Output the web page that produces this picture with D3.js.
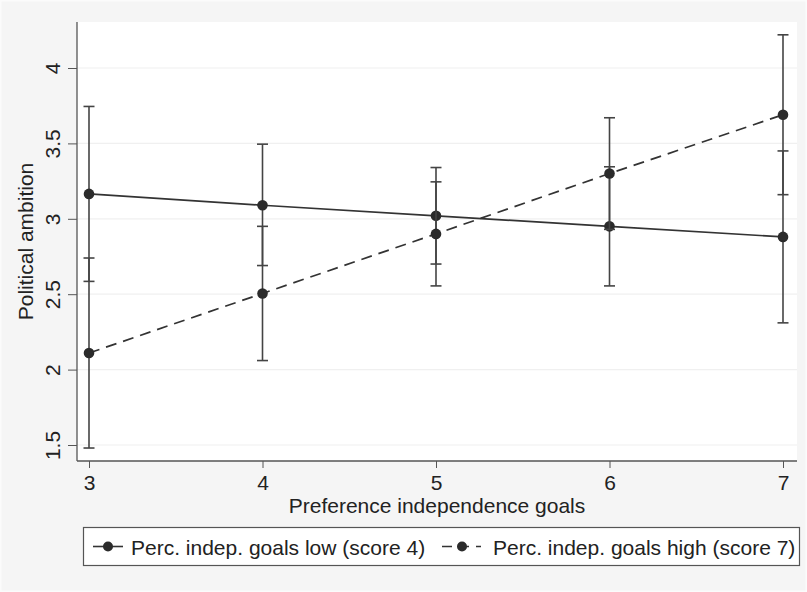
<!DOCTYPE html>
<html>
<head>
<meta charset="utf-8">
<script src="https://cdn.jsdelivr.net/npm/d3@7"></script>
<style>
  body { margin: 0; background: #f5f5f5; }
  svg { display: block; font-family: "Liberation Sans", Arial, sans-serif; }
</style>
</head>
<body>
<div id="chart"></div>
<script>
const width = 807;
const height = 592;

// data
const xValues = [3, 4, 5, 6, 7];
const lowMean = [3.165, 3.09, 3.02, 2.95, 2.88];
const lowLower = [2.585, 2.69, 2.70, 2.555, 2.31];
const lowUpper = [3.745, 3.495, 3.34, 3.345, 3.45];
const highMean = [2.11, 2.505, 2.90, 3.30, 3.69];
const highLower = [1.48, 2.06, 2.555, 2.93, 3.16];
const highUpper = [2.74, 2.95, 3.245, 3.67, 4.22];
const yTicks = [1.5, 2, 2.5, 3, 3.5, 4];
const seriesNames = ["Perc. indep. goals low (score 4)", "Perc. indep. goals high (score 7)"];

const plot = { left: 77, top: 22, right: 797, bottom: 461 };
const ink = "#333";

const svg = d3.select("#chart")
  .append("svg")
  .attr("width", width)
  .attr("height", height);

// graph region
svg.append("rect")
  .attr("x", 0.5).attr("y", 0.5)
  .attr("width", width - 1).attr("height", height - 1)
  .attr("fill", "#f5f5f5")
  .attr("stroke", "#fbfbfb")
  .attr("stroke-width", 2);

// plot region
svg.append("rect")
  .attr("x", plot.left).attr("y", plot.top)
  .attr("width", plot.right - plot.left)
  .attr("height", plot.bottom - plot.top)
  .attr("fill", "#fff");

const x = d3.scaleLinear().domain([3, 7]).range([89, 783]);
const y = d3.scaleLinear().domain([1.5, 4]).range([445, 68]);

// gridlines
svg.selectAll("line.grid")
  .data(yTicks)
  .enter()
  .append("line")
  .attr("class", "grid")
  .attr("x1", plot.left)
  .attr("x2", plot.right)
  .attr("y1", d => y(d))
  .attr("y2", d => y(d))
  .attr("stroke", "#f0f0f0")
  .attr("stroke-width", 1.2);

// y axis
const yAxis = svg.append("g")
  .attr("transform", `translate(${plot.left},0)`)
  .call(d3.axisLeft(y).tickValues(yTicks).tickSize(9).tickPadding(0).tickFormat(d3.format("")));
yAxis.select(".domain").remove();
yAxis.selectAll(".tick line").attr("stroke", "#555");
yAxis.selectAll(".tick text")
  .attr("transform", "rotate(-90)")
  .attr("x", 0)
  .attr("y", -17)
  .attr("dy", 0)
  .attr("text-anchor", "middle")
  .attr("font-size", 21)
  .attr("fill", "#222");
svg.append("line")
  .attr("x1", plot.left).attr("x2", plot.left)
  .attr("y1", plot.top).attr("y2", plot.bottom)
  .attr("stroke", "#555").attr("stroke-width", 1.3);

// x axis
const xAxis = svg.append("g")
  .attr("transform", `translate(0,${plot.bottom})`)
  .call(d3.axisBottom(x).tickValues(xValues).tickSize(7).tickPadding(0).tickFormat(d3.format("d")));
xAxis.select(".domain").remove();
xAxis.selectAll(".tick line").attr("stroke", "#555");
xAxis.selectAll(".tick text")
  .attr("y", 29)
  .attr("dy", 0)
  .attr("font-size", 21)
  .attr("fill", "#222");
svg.append("line")
  .attr("x1", plot.left).attr("x2", plot.right)
  .attr("y1", plot.bottom).attr("y2", plot.bottom)
  .attr("stroke", "#555").attr("stroke-width", 1.3);

// axis titles
svg.append("text")
  .attr("x", (plot.left + plot.right) / 2)
  .attr("y", 513)
  .attr("text-anchor", "middle")
  .attr("font-size", 21)
  .attr("fill", "#222")
  .text("Preference independence goals");

svg.append("text")
  .attr("transform", `translate(33,${(plot.top + plot.bottom) / 2}) rotate(-90)`)
  .attr("text-anchor", "middle")
  .attr("font-size", 21)
  .attr("fill", "#222")
  .text("Political ambition");

// series
const series = [
  { mean: lowMean, lower: lowLower, upper: lowUpper, dash: null },
  { mean: highMean, lower: highLower, upper: highUpper, dash: "11,7" }
];

const line = d3.line()
  .x(d => x(d.x))
  .y(d => y(d.v));

series.forEach(s => {
  const pts = xValues.map((xv, i) => ({ x: xv, v: s.mean[i], lo: s.lower[i], hi: s.upper[i] }));

  // error bars
  const bars = svg.append("g").attr("stroke", "#444").attr("stroke-width", 1.6);
  bars.selectAll("line.ci")
    .data(pts)
    .enter()
    .append("line")
    .attr("x1", d => x(d.x)).attr("x2", d => x(d.x))
    .attr("y1", d => y(d.lo)).attr("y2", d => y(d.hi));
  ["lo", "hi"].forEach(k => {
    bars.selectAll("line.cap-" + k)
      .data(pts)
      .enter()
      .append("line")
      .attr("x1", d => x(d.x) - 5.5).attr("x2", d => x(d.x) + 5.5)
      .attr("y1", d => y(d[k])).attr("y2", d => y(d[k]));
  });

  svg.append("path")
    .datum(pts)
    .attr("d", line)
    .attr("fill", "none")
    .attr("stroke", ink)
    .attr("stroke-width", 1.7)
    .attr("stroke-dasharray", s.dash);

  svg.selectAll(null)
    .data(pts)
    .enter()
    .append("circle")
    .attr("cx", d => x(d.x))
    .attr("cy", d => y(d.v))
    .attr("r", 5.3)
    .attr("fill", "#2b2b2b");
});

// legend
const legend = svg.append("g");
legend.append("rect")
  .attr("x", 83.5).attr("y", 527.5)
  .attr("width", 716).attr("height", 38)
  .attr("fill", "#fff")
  .attr("stroke", "#555")
  .attr("stroke-width", 1.2);

const legendItems = [
  { name: seriesNames[0], x0: 93, x1: 123, dash: null, tx: 131 },
  { name: seriesNames[1], x0: 442, x1: 481, dash: "10,7", tx: 493 }
];
legendItems.forEach(d => {
  legend.append("line")
    .attr("x1", d.x0).attr("x2", d.x1)
    .attr("y1", 546.5).attr("y2", 546.5)
    .attr("stroke", ink)
    .attr("stroke-width", 1.6)
    .attr("stroke-dasharray", d.dash);
  legend.append("circle")
    .attr("cx", d.dash ? 462 : (d.x0 + d.x1) / 2)
    .attr("cy", 546.5)
    .attr("r", 5)
    .attr("fill", "#2b2b2b");
  legend.append("text")
    .attr("x", d.tx)
    .attr("y", 554.5)
    .attr("font-size", 21)
    .attr("fill", "#222")
    .text(d.name);
});
</script>
</body>
</html>
